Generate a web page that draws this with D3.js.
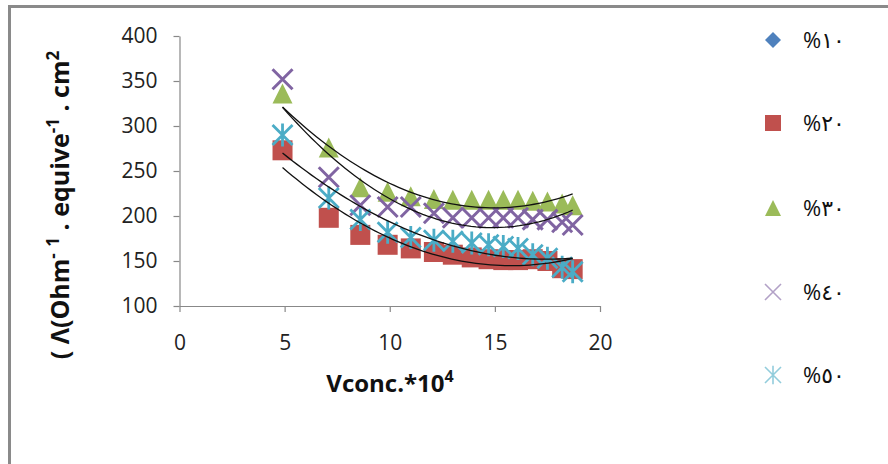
<!DOCTYPE html>
<html><head><meta charset="utf-8">
<script src="https://cdn.jsdelivr.net/npm/d3@7"></script>
<style>body{margin:0;background:#fff;overflow:hidden}</style></head>
<body>
<svg id="c" width="888" height="464"></svg>
<script>
// ---- data ----
const xValues = [4.9, 7.1, 8.6, 9.9, 11.0, 12.1, 13.0, 13.9, 14.7, 15.4, 16.1, 16.8, 17.5, 18.2, 18.7];
const s10 = [];
const s20 = [273, 198, 179, 168, 164, 160, 157, 154, 152, 151, 151, 152, 150, 142, 141];
const s30 = [336, 276, 232, 227, 222, 219, 218, 218, 218, 218, 218, 217, 216, 214, 212];
const s40 = [352, 243, 212, 210, 210, 203, 198, 198, 198, 198, 198, 196, 196, 193, 190];
const s50 = [290, 220, 196, 182, 176, 173, 172, 170, 168, 166, 164, 157, 153, 143, 138];
const seriesNames = ["%١٠", "%٢٠", "%٣٠", "%٤٠", "%٥٠"];
const xTicks = [0, 5, 10, 15, 20];
const yTicks = [100, 150, 200, 250, 300, 350, 400];
const xTitle = "Vconc.*10";
const xTitleSup = "4";

const colors = ["#4F81BD", "#C0504D", "#9BBB59", "#8064A2", "#4BACC6"];
const kinds = ["diamond", "square", "triangle", "cross", "asterisk"];
const allSeries = [s10, s20, s30, s40, s50];

const svg = d3.select("#c");
const FONT = "'Open Sans', 'Liberation Sans', 'DejaVu Sans', sans-serif";

// chart border
svg.append("path").attr("d", "M9.5,470 V6.5 H900")
  .attr("fill", "none").attr("stroke", "#8a8a8a").attr("stroke-width", 3);

const x = d3.scaleLinear().domain([0, 20]).range([179.5, 600]);
const y = d3.scaleLinear().domain([100, 400]).range([306, 36]);

const axisColor = "#888";
const gy = svg.append("g").attr("transform", "translate(179.5,0)")
  .call(d3.axisLeft(y).tickValues(yTicks).tickSize(6).tickPadding(16).tickSizeOuter(0));
const gx = svg.append("g").attr("transform", "translate(0,306)")
  .call(d3.axisBottom(x).tickValues(xTicks).tickSize(6).tickPadding(23).tickSizeOuter(0));
[gx, gy].forEach(g => {
  g.select(".domain").attr("stroke", axisColor).attr("stroke-width", 1.2);
  g.selectAll(".tick line").attr("stroke", axisColor).attr("stroke-width", 1.2);
  g.selectAll("text").attr("font-family", FONT).attr("font-size", 21).attr("fill", "#222");
});

// marker drawing
function marker(g, kind, color, s, legend) {
  const h = s / 2;
  if (kind === "diamond") {
    g.append("path").attr("d", `M0,${-h} L${h},0 L0,${h} L${-h},0Z`).attr("fill", color);
  } else if (kind === "square") {
    g.append("rect").attr("x", -h).attr("y", -h).attr("width", s).attr("height", s).attr("fill", color);
  } else if (kind === "triangle") {
    g.append("path").attr("d", `M0,${-h} L${h},${h} L${-h},${h}Z`).attr("fill", color);
  } else if (kind === "cross") {
    g.append("path").attr("d", `M${-h},${-h} L${h},${h} M${h},${-h} L${-h},${h}`)
      .attr("stroke", color).attr("stroke-width", legend ? 1.6 : 3).attr("opacity", legend ? 0.6 : 1);
  } else if (kind === "asterisk") {
    g.append("path").attr("d", `M${-h},${-h} L${h},${h} M${h},${-h} L${-h},${h} M0,${-h * 1.15} L0,${h * 1.15}`)
      .attr("stroke", color).attr("stroke-width", legend ? 1.6 : 2.8).attr("opacity", legend ? 0.6 : 1);
  }
}

// points
allSeries.forEach((vals, si) => {
  const g = svg.append("g");
  vals.forEach((v, i) => {
    const m = g.append("g").attr("transform", `translate(${x(xValues[i])},${y(v)})`);
    marker(m, kinds[si], colors[si], 20, false);
  });
});

// polynomial (order 2) trendlines, least squares fit of each series
function quadFit(xs, ys) {
  let S = [0, 0, 0, 0, 0], T = [0, 0, 0];
  xs.forEach((xv, i) => {
    let p = 1;
    for (let k = 0; k < 5; k++) { S[k] += p; p *= xv; }
    T[0] += ys[i]; T[1] += ys[i] * xv; T[2] += ys[i] * xv * xv;
  });
  const A = [[S[0], S[1], S[2], T[0]], [S[1], S[2], S[3], T[1]], [S[2], S[3], S[4], T[2]]];
  for (let c = 0; c < 3; c++) {
    for (let r = c + 1; r < 3; r++) {
      const f = A[r][c] / A[c][c];
      for (let k = c; k < 4; k++) A[r][k] -= f * A[c][k];
    }
  }
  const b = [0, 0, 0];
  for (let r = 2; r >= 0; r--) {
    let s = A[r][3];
    for (let k = r + 1; k < 3; k++) s -= A[r][k] * b[k];
    b[r] = s / A[r][r];
  }
  return xv => b[0] + b[1] * xv + b[2] * xv * xv;
}
const line = d3.line().x(d => x(d[0])).y(d => y(d[1])).curve(d3.curveLinear);
allSeries.forEach(vals => {
  if (!vals.length) return;
  const xs = xValues.slice(0, vals.length);
  const f = quadFit(xs, vals);
  const x0 = d3.min(xs), x1 = d3.max(xs);
  const pts = d3.range(0, 61).map(k => { const xv = x0 + (x1 - x0) * k / 60; return [xv, f(xv)]; });
  svg.append("path").attr("d", line(pts)).attr("fill", "none")
    .attr("stroke", "#111").attr("stroke-width", 1.3);
});

// axis titles
const xt = svg.append("text").attr("x", 390).attr("y", 392).attr("text-anchor", "middle")
  .attr("font-family", FONT).attr("font-size", 24).attr("font-weight", "bold").attr("fill", "#111");
xt.append("tspan").text(xTitle);
xt.append("tspan").attr("dy", -10).attr("font-size", 16).text(xTitleSup);

const yt = svg.append("text").attr("transform", "translate(69,205) rotate(-90)")
  .attr("text-anchor", "middle")
  .attr("font-family", FONT).attr("font-size", 25).attr("font-weight", "bold").attr("fill", "#111");
const yParts = [["( Λ(Ohm", 0], ["-", 1], [" ", 0], ["1", 1], [" . equive", 0], ["-1", 1], [" . cm", 0], ["2", 1]];
let raised = false;
yParts.forEach(([t, sup]) => {
  const ts = yt.append("tspan").text(t);
  if (sup) { ts.attr("font-size", 17); if (!raised) { ts.attr("dy", -10); raised = true; } }
  else if (raised) { ts.attr("dy", 10); raised = false; }
});

// legend
const legendY = [40, 123, 208, 292, 375];
seriesNames.forEach((name, i) => {
  const g = svg.append("g").attr("transform", `translate(773,${legendY[i]})`);
  marker(g, kinds[i], colors[i], 16, true);
  svg.append("text").attr("x", 803).attr("y", legendY[i] + 8)
    .attr("font-family", FONT).attr("font-size", 22).attr("fill", "#111")
    .style("direction", "ltr").style("unicode-bidi", "bidi-override")
    .text(name);
});
</script>
</body></html>
